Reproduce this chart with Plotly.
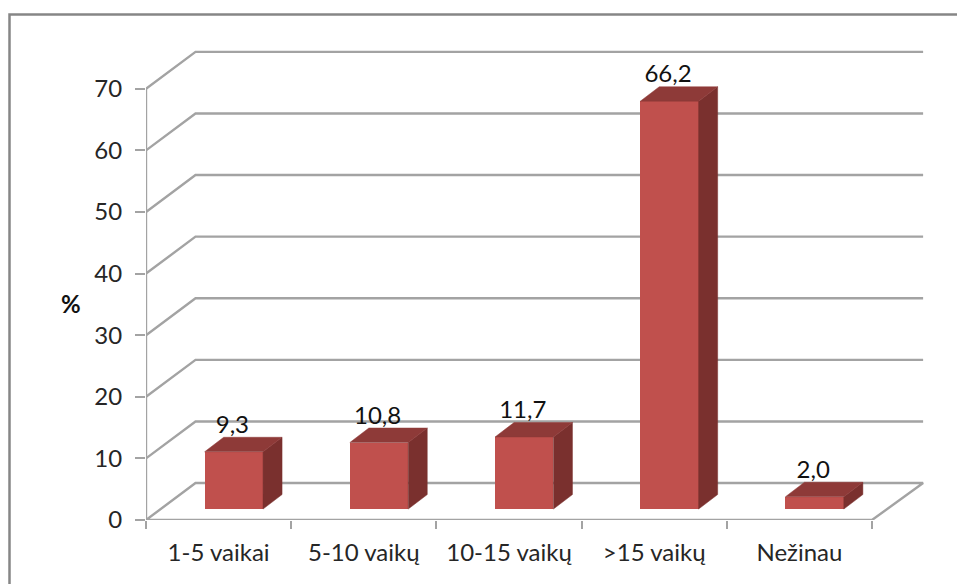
import plotly.graph_objects as go

categories = ["1-5 vaikai", "5-10 vaikų", "10-15 vaikų", ">15 vaikų", "Nežinau"]
values = [9.3, 10.8, 11.7, 66.2, 2.0]
y_ticks = [0, 10, 20, 30, 40, 50, 60, 70]

# Oblique projection of the box, in axis units
WALL_DX = 0.341      # back wall shift along x
WALL_DY = 6.0        # back wall shift along y
WALL_END = 5.352     # right end of the back wall
BAR_X = 0.605        # bar centre inside its category
BAR_W = 0.402        # bar width
BAR_BASE = 1.78      # lift of the bar front above the floor edge
BAR_DX = 0.131       # bar depth along x
BAR_DY = 2.35        # bar depth along y
LABEL_GAP = 4.05     # value label centre above the bar front
FLOOR_END = 5.0

GRID = "#A3A3A3"
TEXT = "#262626"
FRONT = "#C0504D"
TOP = "#8E3A38"
SIDE = "#7A302E"
FRAME = "#868686"
FONT = "Lato"
FONT_SIZE = 24

fig = go.Figure()


def grid_line(xs, ys):
    fig.add_trace(go.Scatter(x=xs, y=ys, mode="lines", xaxis="x", yaxis="y",
                             line=dict(color=GRID, width=2.4), cliponaxis=False,
                             hoverinfo="skip", showlegend=False))


# Side-wall and back-wall gridlines
for t in y_ticks[1:]:
    grid_line([0, WALL_DX, WALL_END], [t, t + WALL_DY, t + WALL_DY])

# Floor outline and the value axis
grid_line([0, WALL_DX, WALL_END, FLOOR_END, 0],
          [0, WALL_DY, WALL_DY, 0, 0])
grid_line([0, 0], [0, y_ticks[-1]])

# Front faces of the columns
centres = [i + BAR_X for i in range(len(values))]
fig.add_trace(go.Bar(x=centres, y=values, base=[BAR_BASE] * len(values), width=BAR_W,
                     xaxis="x2", yaxis="y2", marker=dict(color=FRONT, line=dict(width=0)),
                     hoverinfo="skip", showlegend=False))


def face(xs, ys, color):
    fig.add_trace(go.Scatter(x=xs, y=ys, mode="lines", fill="toself", fillcolor=color,
                             xaxis="x2", yaxis="y2", line=dict(color=color, width=0.5),
                             hoverinfo="skip", showlegend=False))


# Side and top faces derived from each value
for c, v in zip(centres, values):
    left, right = c - BAR_W / 2, c + BAR_W / 2
    low, high = BAR_BASE, BAR_BASE + v
    face([right, right + BAR_DX, right + BAR_DX, right, right],
         [low, low + BAR_DY, high + BAR_DY, high, low], SIDE)
    face([left, left + BAR_DX, right + BAR_DX, right, left],
         [high, high + BAR_DY, high + BAR_DY, high, high], TOP)

# Value labels above the columns
fig.add_trace(go.Scatter(x=[c - 0.01 for c in centres],
                         y=[BAR_BASE + v + LABEL_GAP for v in values],
                         text=[f"{v:.1f}".replace(".", ",") for v in values],
                         mode="text", textposition="middle center",
                         textfont=dict(family=FONT, size=FONT_SIZE, color="#111111"),
                         xaxis="x2", yaxis="y2", cliponaxis=False,
                         hoverinfo="skip", showlegend=False))

x_range = [0, 784 / 145.2]
y_range = [0, 480 / 6.16]
fig.update_layout(
    width=957, height=584, autosize=False,
    margin=dict(l=146, r=27, t=40, b=64, pad=0),
    paper_bgcolor="white", plot_bgcolor="rgba(0,0,0,0)",
    font=dict(family=FONT, size=FONT_SIZE, color=TEXT),
    showlegend=False,
    bargap=0,
    xaxis=dict(range=x_range, tickmode="array", tickvals=list(range(len(categories) + 1)),
               showticklabels=False, ticks="outside", ticklen=8, tickwidth=2.4, tickcolor=GRID,
               showgrid=False, zeroline=False, showline=False),
    xaxis2=dict(range=x_range, overlaying="x", anchor="y2", side="bottom",
                tickmode="array", tickvals=[i + 0.5 for i in range(len(categories))],
                ticktext=categories, ticks="", ticklabelstandoff=16,
                showgrid=False, zeroline=False, showline=False),
    yaxis=dict(range=y_range, tickmode="array", tickvals=y_ticks, ticks="outside",
               ticklen=10, tickwidth=2.4, tickcolor=GRID, ticklabelstandoff=8,
               showgrid=False, zeroline=False, showline=False),
    yaxis2=dict(range=y_range, overlaying="y", anchor="x2", showticklabels=False,
                ticks="", showgrid=False, zeroline=False, showline=False),
    # Chart frame: only its top and left edges fall inside the page
    shapes=[dict(type="path", xref="paper", yref="paper",
                 path=f"M {(9.5 - 146) / 784} {(520 - 595) / 480} "
                      f"L {(9.5 - 146) / 784} {(520 - 14.5) / 480} "
                      f"L {(970 - 146) / 784} {(520 - 14.5) / 480}",
                 line=dict(color=FRAME, width=2.5), layer="below")],
    annotations=[dict(text="<b>%</b>", xref="paper", yref="y", x=(71 - 146) / 784, y=35.1,
                      showarrow=False, xanchor="center", yanchor="middle",
                      font=dict(family=FONT, size=FONT_SIZE, color="#111111"))],
)

fig.write_html("out.html")
